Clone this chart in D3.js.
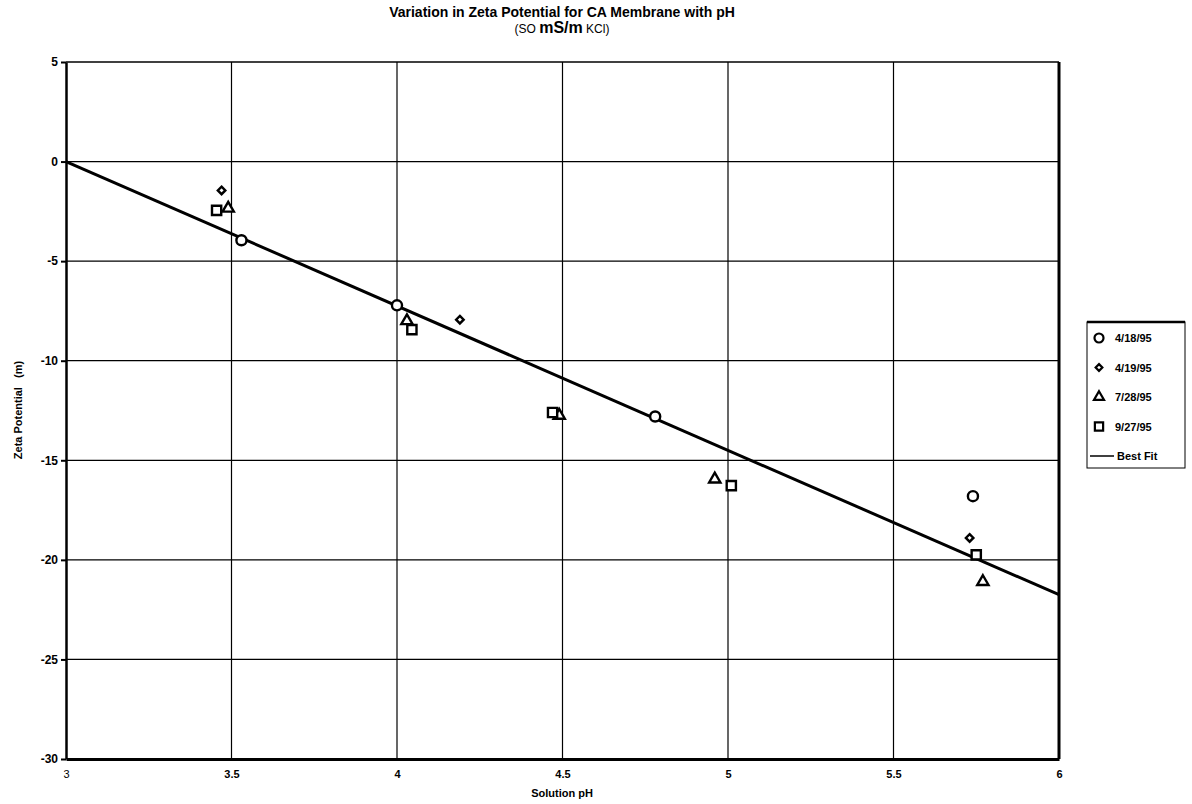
<!DOCTYPE html>
<html>
<head>
<meta charset="utf-8">
<script src="https://cdn.jsdelivr.net/npm/d3@7"></script>
<style>
  body { margin: 0; background: #fff; }
  text { font-family: "Liberation Sans", Arial, sans-serif; fill: #000; }
</style>
</head>
<body>
<script>
// data
var ph0418 = [3.53, 4.00, 4.78, 5.74];
var zeta0418 = [-3.95, -7.22, -12.8, -16.8];
var ph0419 = [3.47, 4.19, 5.73];
var zeta0419 = [-1.45, -7.94, -18.9];
var ph0728 = [3.49, 4.03, 4.49, 4.96, 5.77];
var zeta0728 = [-2.35, -8.0, -12.75, -15.95, -21.1];
var ph0927 = [3.455, 4.045, 4.47, 5.01, 5.75];
var zeta0927 = [-2.45, -8.44, -12.6, -16.27, -19.75];
var fitPh = [3, 6];
var fitZeta = [0, -21.75];
var xTicks = [3, 3.5, 4, 4.5, 5, 5.5, 6];
var yTicks = [5, 0, -5, -10, -15, -20, -25, -30];
var seriesNames = ["4/18/95", "4/19/95", "7/28/95", "9/27/95"];

var w = 1192, h = 804;
//plot area edges
var plotL = 66, plotR = 1059, plotT = 62, plotB = 759;

var svg = d3.select("body").append("svg")
  .attr("width", w)
  .attr("height", h);

var x = d3.scaleLinear().domain([3, 6]).range([plotL, plotR]);
var y = d3.scaleLinear().domain([-30, 5]).range([plotB, plotT]);

//gridlines
svg.append("g").selectAll("line")
  .data(xTicks.slice(1, -1))
  .enter().append("line")
  .attr("x1", function(d){ return x(d); })
  .attr("x2", function(d){ return x(d); })
  .attr("y1", plotT).attr("y2", plotB)
  .style("stroke", "#000").style("stroke-width", 1.2);
svg.append("g").selectAll("line")
  .data(yTicks.slice(1, -1))
  .enter().append("line")
  .attr("x1", plotL).attr("x2", plotR)
  .attr("y1", function(d){ return y(d); })
  .attr("y2", function(d){ return y(d); })
  .style("stroke", "#000").style("stroke-width", 1.2);

//frame
svg.append("line").attr("x1", plotL).attr("x2", plotR).attr("y1", plotT).attr("y2", plotT)
  .style("stroke", "#000").style("stroke-width", 1.5);
svg.append("line").attr("x1", plotR).attr("x2", plotR).attr("y1", plotT).attr("y2", plotB)
  .style("stroke", "#000").style("stroke-width", 3);

//axes (plain hyphen for minus, as in the original)
var yAxis = d3.axisLeft(y).tickValues(yTicks).tickSize(5).tickSizeOuter(0)
  .tickFormat(function(d){ return String(d); });
var gy = svg.append("g")
  .attr("transform", "translate(" + plotL + ",0)")
  .call(yAxis);
gy.select(".domain").style("stroke-width", 2.5);
gy.selectAll(".tick line").style("stroke-width", 2);
gy.selectAll(".tick text")
  .style("font-size", "12px")
  .style("font-weight", "bold")
  .attr("x", -8);

var xAxis = d3.axisBottom(x).tickValues(xTicks).tickSize(0).tickSizeOuter(0)
  .tickFormat(function(d){ return String(d); });
var gx = svg.append("g")
  .attr("transform", "translate(0," + plotB + ")")
  .call(xAxis);
gx.select(".domain").style("stroke-width", 3);
gx.selectAll(".tick text")
  .style("font-size", "11px")
  .style("font-weight", function(d){ return d === 3 ? "normal" : "bold"; })
  .attr("y", 11);

//best fit line
svg.append("line")
  .attr("x1", x(fitPh[0])).attr("y1", y(fitZeta[0]))
  .attr("x2", x(fitPh[1])).attr("y2", y(fitZeta[1]))
  .style("stroke", "#000").style("stroke-width", 3);

function pairs(a, b){ return a.map(function(d, i){ return [d, b[i]]; }); }

var symbols = [d3.symbolCircle, d3.symbolDiamond2, d3.symbolTriangle, d3.symbolSquare];
var sizes = [80, 36, 55, 85];
var allSeries = [pairs(ph0418, zeta0418), pairs(ph0419, zeta0419),
  pairs(ph0728, zeta0728), pairs(ph0927, zeta0927)];

allSeries.forEach(function(s, k){
  svg.append("g").selectAll("path")
    .data(s)
    .enter().append("path")
    .attr("d", d3.symbol().type(symbols[k]).size(sizes[k]))
    .attr("transform", function(d){ return "translate(" + x(d[0]) + "," + y(d[1]) + ")"; })
    .style("fill", "#fff")
    .style("stroke", "#000")
    .style("stroke-width", 2.4);
});

//titles
svg.append("text")
  .attr("x", 562).attr("y", 17)
  .attr("text-anchor", "middle")
  .style("font-size", "14px").style("font-weight", "bold")
  .text("Variation in Zeta Potential for CA Membrane with pH");
var sub = svg.append("text")
  .attr("x", 562).attr("y", 33)
  .attr("text-anchor", "middle")
  .style("font-size", "12px");
sub.append("tspan").text("(SO ");
sub.append("tspan").style("font-size", "16px").style("font-weight", "bold").text("mS/m");
sub.append("tspan").text(" KCl)");

svg.append("text")
  .attr("x", 562).attr("y", 797)
  .attr("text-anchor", "middle")
  .style("font-size", "11px").style("font-weight", "bold")
  .text("Solution pH");

svg.append("text")
  .attr("transform", "translate(22,410) rotate(-90)")
  .attr("text-anchor", "middle")
  .style("font-size", "11px").style("font-weight", "bold")
  .attr("xml:space", "preserve")
  .text("Zeta Potential   (m)");

//legend
var legend = svg.append("g").attr("transform", "translate(1087,322)");
legend.append("rect")
  .attr("width", 98).attr("height", 146)
  .style("fill", "#fff").style("stroke", "#000").style("stroke-width", 1);
legend.append("line").attr("x1", 0).attr("x2", 98).attr("y1", 0).attr("y2", 0)
  .style("stroke", "#000").style("stroke-width", 2.5);
seriesNames.forEach(function(name, k){
  var ly = 16 + k * 29.5;
  legend.append("path")
    .attr("d", d3.symbol().type(symbols[k]).size(sizes[k] * 0.8))
    .attr("transform", "translate(12," + ly + ")")
    .style("fill", "#fff").style("stroke", "#000").style("stroke-width", 2.2);
  legend.append("text")
    .attr("x", 28).attr("y", ly + 4)
    .style("font-size", "11px").style("font-weight", "bold")
    .text(name);
});
legend.append("line")
  .attr("x1", 3).attr("x2", 27).attr("y1", 134).attr("y2", 134)
  .style("stroke", "#000").style("stroke-width", 1.5);
legend.append("text")
  .attr("x", 30).attr("y", 138)
  .style("font-size", "11px").style("font-weight", "bold")
  .text("Best Fit");
</script>
</body>
</html>
